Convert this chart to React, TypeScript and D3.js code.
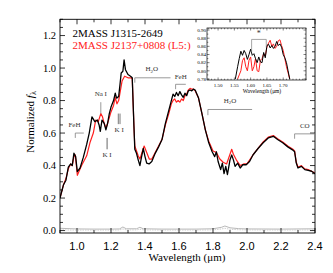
import React from 'react';
import * as d3 from 'd3';

// J1315-2649 (black) spectrum
const blackWave = [0.9, 0.92, 0.935, 0.949, 0.963, 0.972, 0.982, 0.992, 1.002, 1.018, 1.037, 1.057, 1.072, 1.088, 1.105, 1.12, 1.13, 1.137, 1.147, 1.16, 1.17, 1.18, 1.19, 1.2, 1.215, 1.225, 1.233, 1.245, 1.253, 1.26, 1.27, 1.277, 1.285, 1.3, 1.315, 1.325, 1.335, 1.34, 1.35, 1.36, 1.37, 1.38, 1.39, 1.4, 1.41, 1.424, 1.44, 1.46, 1.48, 1.5, 1.52, 1.54, 1.555, 1.565, 1.575, 1.585, 1.595, 1.605, 1.615, 1.625, 1.635, 1.645, 1.655, 1.665, 1.675, 1.685, 1.695, 1.715, 1.735, 1.755, 1.775, 1.795, 1.81, 1.82, 1.83, 1.845, 1.855, 1.865, 1.875, 1.885, 1.9, 1.91, 1.92, 1.93, 1.945, 1.96, 1.975, 1.995, 2.015, 2.035, 2.065, 2.095, 2.125, 2.155, 2.18, 2.21, 2.24, 2.27, 2.28, 2.29, 2.3, 2.32, 2.34, 2.36, 2.38, 2.4];
const blackFlux = [0.2, 0.28, 0.31, 0.39, 0.41, 0.4, 0.476, 0.455, 0.363, 0.385, 0.45, 0.53, 0.6, 0.7, 0.67, 0.68, 0.65, 0.61, 0.68, 0.66, 0.62, 0.66, 0.72, 0.76, 0.8, 0.845, 0.815, 0.825, 0.9, 0.97, 0.98, 1.05, 0.99, 0.96, 0.95, 0.94, 0.64, 0.5, 0.475, 0.435, 0.4, 0.455, 0.505, 0.455, 0.415, 0.41, 0.425, 0.475, 0.515, 0.56, 0.66, 0.74, 0.8, 0.84, 0.825, 0.85, 0.83, 0.855, 0.835, 0.82, 0.845, 0.83, 0.86, 0.865, 0.86, 0.87, 0.865, 0.815, 0.72, 0.62, 0.54, 0.485, 0.455, 0.485, 0.425, 0.375, 0.415, 0.35, 0.395, 0.345, 0.435, 0.465, 0.435, 0.395, 0.415, 0.385, 0.405, 0.405, 0.425, 0.465, 0.505, 0.54, 0.57, 0.58, 0.56, 0.54, 0.515, 0.495, 0.485, 0.415, 0.385, 0.395, 0.375, 0.37, 0.365, 0.35];

// J2137+0808 (red) spectrum
const redWave = [0.9, 0.92, 0.935, 0.949, 0.963, 0.972, 0.982, 0.99, 1.002, 1.027, 1.057, 1.076, 1.096, 1.11, 1.125, 1.14, 1.15, 1.16, 1.17, 1.18, 1.2, 1.215, 1.225, 1.235, 1.245, 1.255, 1.265, 1.28, 1.3, 1.315, 1.325, 1.335, 1.34, 1.36, 1.37, 1.385, 1.395, 1.41, 1.425, 1.44, 1.46, 1.48, 1.5, 1.52, 1.54, 1.555, 1.565, 1.575, 1.585, 1.595, 1.605, 1.615, 1.625, 1.635, 1.645, 1.655, 1.665, 1.675, 1.685, 1.695, 1.715, 1.735, 1.755, 1.775, 1.8, 1.82, 1.84, 1.86, 1.88, 1.9, 1.91, 1.92, 1.94, 1.96, 1.98, 2.0, 2.035, 2.065, 2.095, 2.125, 2.155, 2.18, 2.21, 2.24, 2.27, 2.28, 2.29, 2.3, 2.32, 2.34, 2.36, 2.38, 2.4];
const redFlux = [0.2, 0.28, 0.32, 0.38, 0.41, 0.4, 0.455, 0.465, 0.34, 0.4, 0.46, 0.54, 0.6, 0.68, 0.67, 0.72, 0.7, 0.66, 0.63, 0.66, 0.73, 0.77, 0.82, 0.78, 0.8, 0.86, 0.92, 0.95, 0.94, 0.94, 0.935, 0.64, 0.52, 0.46, 0.44, 0.49, 0.52, 0.48, 0.44, 0.44, 0.48, 0.52, 0.56, 0.65, 0.72, 0.78, 0.8, 0.81, 0.79, 0.8, 0.79, 0.81, 0.8, 0.83, 0.84, 0.865, 0.875, 0.87, 0.87, 0.86, 0.815, 0.72, 0.62, 0.55, 0.49, 0.48, 0.44, 0.42, 0.41, 0.47, 0.5, 0.47, 0.43, 0.4, 0.41, 0.41, 0.465, 0.505, 0.545, 0.575, 0.585, 0.565, 0.545, 0.52, 0.5, 0.49, 0.42, 0.39, 0.4, 0.38, 0.375, 0.365, 0.355];

// uncertainty spectra near zero
const noiseWave = [0.9, 1.0, 1.1, 1.2, 1.25, 1.27, 1.29, 1.35, 1.37, 1.39, 1.5, 1.7, 1.8, 1.85, 1.87, 1.9, 1.95, 2.0, 2.2, 2.4];
const noiseFlux = [0.014, 0.01, 0.009, 0.009, 0.01, 0.022, 0.011, 0.011, 0.02, 0.011, 0.009, 0.009, 0.011, 0.02, 0.028, 0.017, 0.012, 0.01, 0.009, 0.011];
const noiseFlux2 = [0.004, 0.003, 0.003, 0.003, 0.004, 0.01, 0.004, 0.004, 0.008, 0.004, 0.003, 0.003, 0.004, 0.01, 0.014, 0.008, 0.005, 0.004, 0.003, 0.004];

// inset: zoom on the H-band peak
const insetBlackWave = [1.553, 1.56, 1.565, 1.57, 1.575, 1.58, 1.585, 1.59, 1.595, 1.6, 1.605, 1.61, 1.615, 1.62, 1.625, 1.63, 1.635, 1.64, 1.645, 1.65, 1.655, 1.66, 1.665, 1.67, 1.675, 1.68, 1.685, 1.69, 1.695, 1.7, 1.705, 1.71, 1.715, 1.72];
const insetBlackFlux = [0.78, 0.81, 0.83, 0.848, 0.838, 0.85, 0.842, 0.828, 0.84, 0.853, 0.838, 0.842, 0.83, 0.82, 0.834, 0.822, 0.82, 0.845, 0.832, 0.862, 0.865, 0.856, 0.862, 0.855, 0.86, 0.872, 0.862, 0.866, 0.858, 0.84, 0.832, 0.82, 0.8, 0.78];
const insetRedWave = [1.56, 1.565, 1.57, 1.575, 1.58, 1.585, 1.59, 1.595, 1.6, 1.605, 1.61, 1.615, 1.62, 1.625, 1.63, 1.635, 1.64, 1.645, 1.65, 1.655, 1.66, 1.665, 1.67, 1.675, 1.68, 1.685, 1.69, 1.695, 1.7, 1.705, 1.71, 1.715, 1.72];
const insetRedFlux = [0.78, 0.79, 0.8, 0.825, 0.832, 0.81, 0.8, 0.826, 0.834, 0.8, 0.81, 0.83, 0.8, 0.798, 0.826, 0.83, 0.842, 0.836, 0.858, 0.868, 0.875, 0.86, 0.866, 0.855, 0.86, 0.874, 0.876, 0.862, 0.85, 0.83, 0.81, 0.795, 0.78];

const xTickLabels = [1.0, 1.2, 1.4, 1.6, 1.8, 2.0, 2.2, 2.4];
const yTickLabels = [0.0, 0.2, 0.4, 0.6, 0.8, 1.0, 1.2];
const insetXTicks = [1.5, 1.55, 1.6, 1.65, 1.7];
const insetYTicks = [0.78, 0.8, 0.82, 0.84, 0.86, 0.88, 0.9];

const serif = '"Liberation Serif", "Times New Roman", serif';
const sans = '"Liberation Sans", Arial, sans-serif';

const App: React.FC = () => {
    const W = 333, H = 273;
    const m = { left: 60, right: 315, top: 19.3, bottom: 233 };
    const x = d3.scaleLinear().domain([0.9, 2.4]).range([m.left, m.right]);
    const y = d3.scaleLinear().domain([-0.015, 1.3]).range([m.bottom, m.top]);

    const inset = { left: 207, right: 306, top: 28, bottom: 80 };
    const xi = d3.scaleLinear().domain([1.466, 1.77]).range([inset.left, inset.right]);
    const yi = d3.scaleLinear().domain([0.7775, 0.905]).range([inset.bottom, inset.top]);

    const mainLine = (w: number[], f: number[]) =>
        d3.line<number>().x((_, i) => x(w[i])).y(d => y(d))(f) as string;
    const insetLine = (w: number[], f: number[]) =>
        d3.line<number>().x((_, i) => xi(w[i])).y(d => yi(d))(f) as string;

    const xMinor = d3.range(0.9, 2.4001, 0.1);
    const yMinor = d3.range(0, 1.3001, 0.05);
    const xiMinor = d3.range(1.47, 1.7701, 0.01);
    const yiMinor = d3.range(0.78, 0.9051, 0.01);

    // bracket annotations in data units
    const brackets: { label: string; x0: number; x1: number; y: number; foot: number; tx: number; ty: number; sub?: boolean }[] = [
        { label: 'FeH', x0: 0.99, x1: 1.04, y: 0.6, foot: 0.57, tx: 0.985, ty: 0.64 },
        { label: 'H2O', x0: 1.34, x1: 1.55, y: 0.94, foot: 0.91, tx: 1.44, ty: 0.98, sub: true },
        { label: 'FeH', x0: 1.58, x1: 1.64, y: 0.9, foot: 0.87, tx: 1.61, ty: 0.935 },
        { label: 'H2O', x0: 1.77, x1: 2.03, y: 0.745, foot: 0.71, tx: 1.9, ty: 0.785, sub: true },
        { label: 'CO', x0: 2.28, x1: 2.4, y: 0.595, foot: 0.565, tx: 2.34, ty: 0.63 },
    ];

    return (
        <svg width={W} height={H} style={{ position: 'absolute', left: 0, top: 0, background: '#fff' }}>
            <defs>
                <clipPath id="mainClip">
                    <rect x={m.left} y={m.top} width={m.right - m.left} height={m.bottom - m.top} />
                </clipPath>
                <clipPath id="insetClip">
                    <rect x={inset.left} y={inset.top} width={inset.right - inset.left} height={inset.bottom - inset.top} />
                </clipPath>
            </defs>

            {/* noise + spectra */}
            <g clipPath="url(#mainClip)">
                <path d={mainLine(noiseWave, noiseFlux)} fill="none" stroke="#b0b0b0" strokeWidth={0.9} />
                <path d={mainLine(noiseWave, noiseFlux2)} fill="none" stroke="#c8c8c8" strokeWidth={0.9} strokeDasharray="1.5,1" />
                <path d={mainLine(redWave, redFlux)} fill="none" stroke="#ff2020" strokeWidth={1.2} strokeLinejoin="round" />
                <path d={mainLine(blackWave, blackFlux)} fill="none" stroke="#000" strokeWidth={1.3} strokeLinejoin="round" />
            </g>

            {/* main frame and ticks */}
            <rect x={m.left} y={m.top} width={m.right - m.left} height={m.bottom - m.top} fill="none" stroke="#000" strokeWidth={0.9} />
            {xMinor.map((v, i) => {
                const major = Math.abs((v * 10) % 2) < 0.01 || Math.abs((v * 10) % 2 - 2) < 0.01;
                const l = major ? 5 : 3;
                return (
                    <g key={'xt' + i} stroke="#000" strokeWidth={0.8}>
                        <line x1={x(v)} x2={x(v)} y1={m.bottom} y2={m.bottom - l} />
                        <line x1={x(v)} x2={x(v)} y1={m.top} y2={m.top + l} />
                    </g>
                );
            })}
            {yMinor.map((v, i) => {
                const major = Math.abs(v * 20 % 4) < 0.01 || Math.abs(v * 20 % 4 - 4) < 0.01;
                const l = major ? 5 : 3;
                return (
                    <g key={'yt' + i} stroke="#000" strokeWidth={0.8}>
                        <line x1={m.left} x2={m.left + l} y1={y(v)} y2={y(v)} />
                        <line x1={m.right} x2={m.right - l} y1={y(v)} y2={y(v)} />
                    </g>
                );
            })}
            {xTickLabels.map(v => (
                <text key={'xl' + v} x={x(v)} y={250} textAnchor="middle" fontFamily={sans} fontSize={11} fill="#000">
                    {v.toFixed(1)}
                </text>
            ))}
            {yTickLabels.map(v => (
                <text key={'yl' + v} x={56} y={y(v) + 3.6} textAnchor="end" fontFamily={serif} fontSize={10.5} fill="#000">
                    {v.toFixed(1)}
                </text>
            ))}
            <text x={187} y={261} textAnchor="middle" fontFamily={serif} fontSize={11} fill="#000">
                Wavelength (μm)
            </text>
            <text transform="translate(34,122) rotate(-90)" textAnchor="middle" fontFamily={serif} fontSize={11} fill="#000">
                Normalized <tspan fontStyle="italic">f</tspan><tspan fontSize={8} dy={2}>λ</tspan>
            </text>

            {/* legend */}
            <text x={72.5} y={36.5} fontFamily={serif} fontSize={11} fill="#000">2MASS J1315-2649</text>
            <text x={72.5} y={49} fontFamily={serif} fontSize={11} fill="#ff2020">2MASS J2137+0808 (L5:)</text>

            {/* feature brackets */}
            {brackets.map((b, i) => (
                <g key={'br' + i}>
                    <path d={`M${x(b.x0)},${y(b.foot)}V${y(b.y)}H${x(b.x1)}`} fill="none" stroke="#808080" strokeWidth={0.8} />
                    <text x={x(b.tx)} y={y(b.ty)} textAnchor="middle" fontFamily={serif} fontSize={7} fill="#333">
                        {b.sub ? (<>H<tspan fontSize={5} dy={1.5}>2</tspan><tspan dy={-1.5}>O</tspan></>) : b.label}
                    </text>
                </g>
            ))}
            {/* atomic lines */}
            <line x1={x(1.14)} x2={x(1.14)} y1={y(0.79)} y2={y(0.72)} stroke="#808080" strokeWidth={0.8} />
            <text x={x(1.14)} y={y(0.825)} textAnchor="middle" fontFamily={serif} fontSize={7} fill="#333">Na I</text>
            <line x1={x(1.177)} x2={x(1.177)} y1={y(0.57)} y2={y(0.5)} stroke="#555" strokeWidth={0.9} />
            <text x={x(1.177)} y={y(0.455)} textAnchor="middle" fontFamily={serif} fontSize={7} fill="#333">K I</text>
            <line x1={x(1.243)} x2={x(1.243)} y1={y(0.72)} y2={y(0.655)} stroke="#555" strokeWidth={0.8} />
            <line x1={x(1.253)} x2={x(1.253)} y1={y(0.72)} y2={y(0.655)} stroke="#555" strokeWidth={0.8} />
            <text x={x(1.248)} y={y(0.605)} textAnchor="middle" fontFamily={serif} fontSize={7} fill="#333">K I</text>

            {/* inset */}
            <rect x={inset.left} y={inset.top} width={inset.right - inset.left} height={inset.bottom - inset.top} fill="#fff" />
            <g clipPath="url(#insetClip)">
                <path d={insetLine(insetRedWave, insetRedFlux)} fill="none" stroke="#ff2020" strokeWidth={1} strokeLinejoin="round" />
                <path d={insetLine(insetBlackWave, insetBlackFlux)} fill="none" stroke="#000" strokeWidth={1} strokeLinejoin="round" />
            </g>
            <rect x={inset.left} y={inset.top} width={inset.right - inset.left} height={inset.bottom - inset.top} fill="none" stroke="#000" strokeWidth={0.7} />
            {xiMinor.map((v, i) => {
                const major = insetXTicks.some(t => Math.abs(t - v) < 0.001);
                const l = major ? 2.5 : 1.3;
                return (
                    <g key={'xit' + i} stroke="#000" strokeWidth={0.5}>
                        <line x1={xi(v)} x2={xi(v)} y1={inset.bottom} y2={inset.bottom - l} />
                        <line x1={xi(v)} x2={xi(v)} y1={inset.top} y2={inset.top + l} />
                    </g>
                );
            })}
            {yiMinor.map((v, i) => {
                const major = insetYTicks.some(t => Math.abs(t - v) < 0.001);
                const l = major ? 2.5 : 1.3;
                return (
                    <g key={'yit' + i} stroke="#000" strokeWidth={0.5}>
                        <line x1={inset.left} x2={inset.left + l} y1={yi(v)} y2={yi(v)} />
                        <line x1={inset.right} x2={inset.right - l} y1={yi(v)} y2={yi(v)} />
                    </g>
                );
            })}
            {insetXTicks.map(v => (
                <text key={'xil' + v} x={xi(v)} y={inset.bottom + 7} textAnchor="middle" fontFamily={serif} fontSize={5} fill="#000">
                    {v.toFixed(2)}
                </text>
            ))}
            {insetYTicks.map(v => (
                <text key={'yil' + v} x={inset.left - 1} y={yi(v) + 1.7} textAnchor="end" fontFamily={serif} fontSize={5} fill="#000">
                    {v.toFixed(2)}
                </text>
            ))}
            <text x={262} y={93} textAnchor="middle" fontFamily={serif} fontSize={5.5} fill="#000">Wavelength (μm)</text>
            <path d={`M${xi(1.603)},${yi(0.845)}V${yi(0.877)}H${xi(1.648)}V${yi(0.857)}`} fill="none" stroke="#808080" strokeWidth={0.7} />
            <text x={xi(1.625)} y={yi(0.885)} textAnchor="middle" fontFamily={serif} fontSize={8} fill="#333">*</text>
        </svg>
    );
};

export default App;
